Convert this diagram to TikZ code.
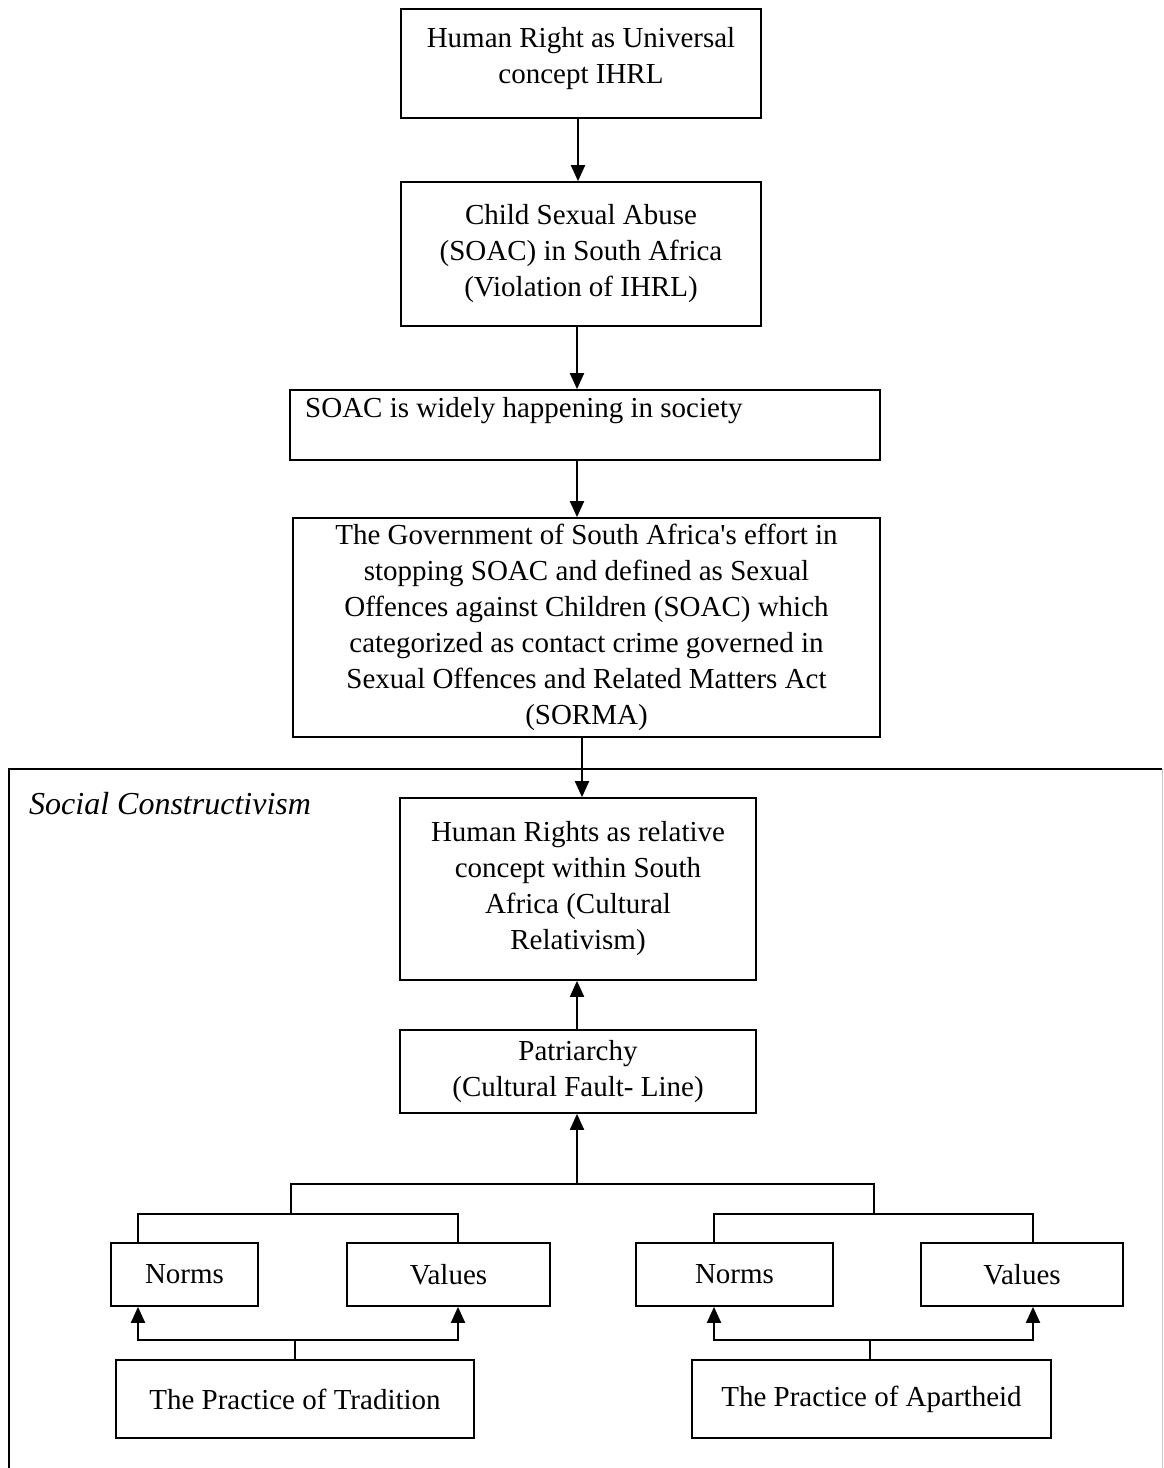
\documentclass[tikz,border=0pt]{standalone}
\usepackage{fontspec}
\setmainfont{Liberation Serif}
\newfontfamily\plainserif{Liberation Serif}
\usetikzlibrary{arrows.meta,calc}
\begin{document}
\begin{tikzpicture}[x=1pt,y=-1pt,
 box/.style={draw, line width=1.7pt, inner sep=0pt, align=center, font=\fontsize{29}{36}\selectfont},
 txt/.style={inner sep=0pt, font=\fontsize{29}{36}\selectfont},
 conn/.style={line width=1.5pt},
 arr/.style={line width=1.9pt, -{Triangle[length=16pt,width=14pt]}},
]
\useasboundingbox (0,0) rectangle (1163,1468);
% frame
\draw[line width=2.2pt] (9,1468) -- (9,769) -- (1162,769);
\draw[gray!45, line width=1pt] (1162,769) -- (1162,1468);
\node[txt, anchor=west, font=\fontsize{32}{36}\selectfont\itshape] (sc) at (29,804) {Social Constructivism};
% main column
\node[box, minimum width=360, minimum height=109] (b1) at (581,63.5) {};
\node[txt, align=center] (b1t) at (581,59) {Human Right as Universal\\concept IHRL};
\node[box, minimum width=360, minimum height=144] (b2) at (581,254) {Child Sexual Abuse\\(SOAC) in South Africa\\(Violation of IHRL)};
\node[box, minimum width=590, minimum height=70] (b3) at (585,425) {};
\node[txt, anchor=west] (b3t) at (305,411) {SOAC is widely happening in society};
\node[box, minimum width=587, minimum height=219] (b4) at (586.5,627.5) {The Government of South Africa{\plainserif'}s effort in\\stopping SOAC and defined as Sexual\\Offences against Children (SOAC) which\\categorized as contact crime governed in\\Sexual Offences and Related Matters Act\\(SORMA)};
\node[box, minimum width=356, minimum height=182] (b6) at (578,889) {Human Rights as relative\\concept within South\\Africa (Cultural\\Relativism)};
\node[box, minimum width=356, minimum height=83] (b7) at (578,1071.5) {Patriarchy\\ (Cultural Fault- Line)};
% lower boxes
\node[box, minimum width=147, minimum height=63] (nl) at (184.5,1274.5) {Norms};
\node[box, minimum width=203, minimum height=63] (vl) at (448.5,1274.5) {Values};
\node[box, minimum width=197, minimum height=63] (nr) at (734.5,1274.5) {Norms};
\node[box, minimum width=202, minimum height=63] (vr) at (1022,1274.5) {Values};
\node[box, minimum width=358, minimum height=78] (t) at (295,1399) {The Practice of Tradition};
\node[box, minimum width=359, minimum height=78] (a) at (871.5,1399) {The Practice of Apartheid};
% arrows main column
\draw[arr] (b1.south -| 578,0) -- (b2.north -| 578,0);
\draw[arr] (b2.south -| 577,0) -- (b3.north -| 577,0);
\draw[arr] (b3.south -| 577,0) -- (b4.north -| 577,0);
\draw[arr] (b4.south -| 582,0) -- (b6.north -| 582,0);
\draw[arr] (b7.north -| 577,0) -- (b6.south -| 577,0);
% tree
\coordinate (j0) at (577,1184);
\coordinate (jl) at (291,1184);
\coordinate (jr) at (874,1184);
\coordinate (ll) at (138,1214);
\coordinate (lr) at (458,1214);
\coordinate (rl) at (714,1214);
\coordinate (rr) at (1033,1214);
\draw[arr] (j0) -- (j0 |- b7.south);
\draw[conn] (jl |- ll) -- (jl) -- (jr) -- (jr |- rl);
\draw[conn] (ll |- nl.north) -- (ll) -- (lr) -- (lr |- vl.north);
\draw[conn] (rl |- nr.north) -- (rl) -- (rr) -- (rr |- vr.north);
% bottom arrows
\coordinate (tl) at (138,1340);
\coordinate (tr) at (458,1340);
\coordinate (al) at (714,1340);
\coordinate (ar) at (1033,1340);
\coordinate (ta) at (870,1340);
\draw[conn] (t.north) -- (t.north |- tl);
\draw[arr] (t.north |- tl) -| (tl |- nl.south);
\draw[arr] (t.north |- tl) -| (tr |- vl.south);
\draw[conn] (a.north -| ta) -- (ta);
\draw[arr] (ta) -| (al |- nr.south);
\draw[arr] (ta) -| (ar |- vr.south);
\end{tikzpicture}
\end{document}
